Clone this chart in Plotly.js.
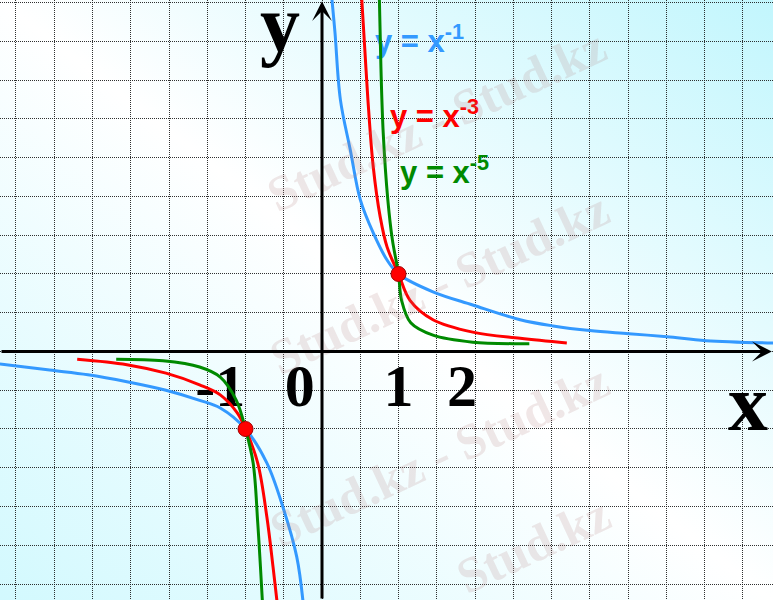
<!DOCTYPE html>
<html>
<head>
<meta charset="utf-8">
<script src="https://cdn.plot.ly/plotly-3.0.1.min.js"></script>
<style>html,body{margin:0;padding:0;background:#fff;}#chart{width:773px;height:600px;}</style>
</head>
<body>
<div id="chart"></div>
<script>
// ---- data ----
const blueRightX = [0.13, 0.17, 0.24, 0.37, 0.5, 0.67, 0.85, 1, 1.45, 1.97, 2.59, 3.02, 3.5, 4.01, 4.51, 5.02, 5.9];
const blueRightY = [4.54, 4.11, 3.25, 2.6, 1.96, 1.53, 1.18, 1, 0.77, 0.6, 0.41, 0.33, 0.27, 0.23, 0.19, 0.14, 0.11];
const blueLeftX  = [-4.21, -3.56, -3.06, -2.55, -2.04, -1.6, -1.33, -1, -0.72, -0.51, -0.33, -0.25];
const blueLeftY  = [-0.16, -0.24, -0.3, -0.39, -0.5, -0.63, -0.73, -1, -1.44, -2.01, -2.65, -3.21];

const redRightX = [0.52, 0.56, 0.6, 0.67, 0.76, 0.85, 1, 1.15, 1.45, 1.97, 2.59, 3.2];
const redRightY = [4.54, 3.89, 3.25, 2.38, 1.74, 1.35, 1, 0.66, 0.41, 0.25, 0.17, 0.11];
const redLeftX  = [-3.2, -2.55, -2.04, -1.6, -1.33, -1.11, -1, -0.84, -0.72, -0.64, -0.59];
const redLeftY  = [-0.1, -0.17, -0.28, -0.43, -0.56, -0.79, -1, -1.44, -2.14, -2.78, -3.21];

const greenRightX = [0.75, 0.77, 0.8, 0.86, 0.92, 1, 1.04, 1.16, 1.45, 1.97, 2.59, 2.71];
const greenRightY = [4.54, 3.67, 2.82, 1.96, 1.44, 1, 0.66, 0.37, 0.21, 0.12, 0.1, 0.1];
const greenLeftX  = [-2.69, -2.08, -1.6, -1.33, -1.12, -1, -0.9, -0.84, -0.78];
const greenLeftY  = [-0.1, -0.12, -0.2, -0.33, -0.63, -1, -1.44, -2.21, -3.21];

const commonX = [1, -1];
const commonY = [1, -1];

const tickValues = [-1, 0, 1, 2];
const tickLabels = ['-1', '0', '1', '2'];

const curveLabels = ['y = x<sup>-1</sup>', 'y = x<sup>-3</sup>', 'y = x<sup>-5</sup>'];
const axisNames = ['x', 'y'];
const watermarkTexts = ['Stud.kz - Stud.kz', 'Stud.kz - Stud.kz', 'Stud.kz - Stud.kz', 'Stud.kz'];

// ---- layout / style ----
const xRange = [-4.209, 5.895];
const yRange = [-3.2065, 4.535];
const colors = {blue: '#3399ff', red: '#ff0000', green: '#008a00'};
const tickLabelOffsets = [-0.33, -0.29, 0, -0.17];
const tickLabelY = -0.51;
const curveLabelPos = {x: [0.693, 0.889, 1.02], y: [3.967, 3.0, 2.277]};
const axisNamePos = {x: [5.569, -0.549], y: [-0.755, 4.136]};

function join(a, b) { return a.concat([null], b); }

const serifBold = {family: 'Liberation Serif, Times New Roman, serif', weight: 'bold', color: '#000'};

const traces = [];
// labels drawn first so curves pass over them
traces.push({
  x: tickValues.map((v, i) => v + tickLabelOffsets[i]),
  y: tickValues.map(() => tickLabelY),
  text: tickLabels, mode: 'text', textposition: 'middle center',
  textfont: Object.assign({size: 60}, serifBold), hoverinfo: 'skip'
});
traces.push({
  x: axisNamePos.x, y: axisNamePos.y, text: axisNames, mode: 'text',
  textposition: 'middle center', textfont: Object.assign({size: 80}, serifBold), hoverinfo: 'skip'
});
traces.push({
  x: curveLabelPos.x, y: curveLabelPos.y, text: curveLabels, mode: 'text',
  textposition: 'middle right',
  textfont: {family: 'Liberation Sans, Arial, sans-serif', weight: 'bold', size: 31,
             color: [colors.blue, colors.red, colors.green]},
  hoverinfo: 'skip'
});

const curves = [
  [join(blueLeftX, blueRightX), join(blueLeftY, blueRightY), colors.blue],
  [join(redLeftX, redRightX), join(redLeftY, redRightY), colors.red],
  [join(greenLeftX, greenRightX), join(greenLeftY, greenRightY), colors.green]
];
curves.forEach(c => traces.push({
  x: c[0], y: c[1], mode: 'lines', connectgaps: false,
  line: {color: c[2], width: 3, shape: 'spline', smoothing: 1}, hoverinfo: 'skip'
}));

traces.push({
  x: commonX, y: commonY, mode: 'markers',
  marker: {size: 15, color: '#ff0000', line: {color: '#a00000', width: 1}}, hoverinfo: 'skip'
});

const bgSvg = "<svg xmlns='http://www.w3.org/2000/svg' width='773' height='600'>" +
  "<defs><linearGradient id='g' x1='1' y1='0' x2='0' y2='1'>" +
  "<stop offset='0' stop-color='#c2f6fd'/><stop offset='0.5' stop-color='#ffffff'/>" +
  "<stop offset='1' stop-color='#d2f9fe'/></linearGradient></defs>" +
  "<rect width='773' height='600' fill='url(#g)'/></svg>";

const wmCenters = [[0.565, 0.8], [0.569, 0.528], [0.569, 0.242], [0.69, 0.092]];
const annotations = wmCenters.map((p, i) => ({
  xref: 'paper', yref: 'paper', x: p[0], y: p[1], text: watermarkTexts[i], showarrow: false,
  textangle: -25, xanchor: 'center', yanchor: 'middle',
  font: {family: 'Liberation Serif, Times New Roman, serif', weight: 'bold', size: 50,
         color: 'rgba(175,120,120,0.18)'}
}));
// axes with arrows
annotations.push({x: 5.88, y: 0, ax: xRange[0], ay: 0, xref: 'x', yref: 'y', axref: 'x', ayref: 'y',
  text: '', showarrow: true, arrowhead: 3, arrowsize: 1.1, arrowwidth: 3, arrowcolor: '#000', standoff: 0});
annotations.push({x: 0, y: 4.52, ax: 0, ay: yRange[0], xref: 'x', yref: 'y', axref: 'x', ayref: 'y',
  text: '', showarrow: true, arrowhead: 3, arrowsize: 1.1, arrowwidth: 3, arrowcolor: '#000', standoff: 0});

const gridStyle = {showgrid: true, gridcolor: 'rgba(25,25,25,0.9)', gridwidth: 1, griddash: '1px,1px',
  zeroline: false, showticklabels: false, ticks: '', showline: false, tick0: 0, dtick: 0.5, fixedrange: true};

const layout = {
  width: 773, height: 600,
  margin: {l: 0, r: 0, t: 0, b: 0, pad: 0},
  paper_bgcolor: '#ffffff', plot_bgcolor: 'rgba(0,0,0,0)',
  showlegend: false,
  xaxis: Object.assign({range: xRange}, gridStyle),
  yaxis: Object.assign({range: yRange}, gridStyle),
  images: [{source: 'data:image/svg+xml;charset=utf-8,' + encodeURIComponent(bgSvg),
    xref: 'paper', yref: 'paper', x: 0, y: 1, sizex: 1, sizey: 1, sizing: 'stretch',
    xanchor: 'left', yanchor: 'top', layer: 'below'}],
  annotations: annotations
};

Plotly.newPlot('chart', traces, layout, {displayModeBar: false, staticPlot: true});
</script>
</body>
</html>
